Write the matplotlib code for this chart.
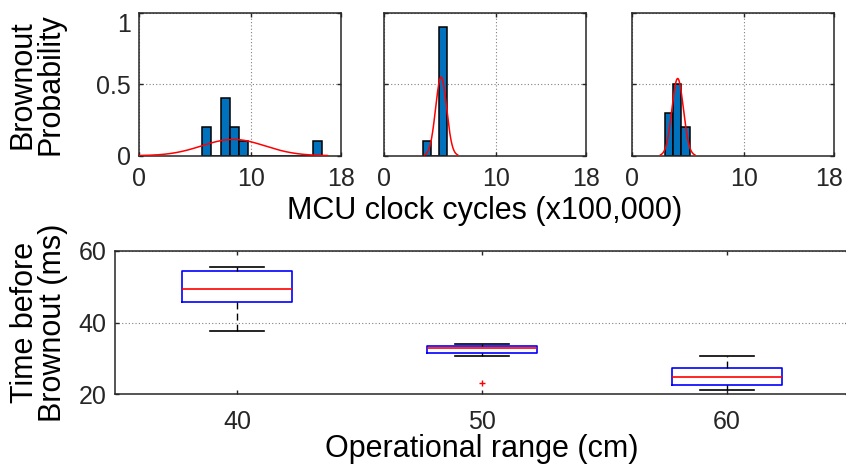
import matplotlib
matplotlib.use('Agg')
import matplotlib.pyplot as plt
import matplotlib.transforms as mtrans
import numpy as np

plt.rcParams['font.family'] = ['Liberation Sans', 'DejaVu Sans']

# top row: brownout probability histograms (MCU clock cycles, x100,000)
hist_start = [5.64, 3.49, 2.97]
hist_width = [0.82, 0.70, 0.72]
hist_prob = [
    [0.2, 0, 0.4, 0.2, 0.1, 0, 0, 0, 0, 0, 0, 0, 0.1],
    [0.1, 0, 0.9],
    [0.3, 0.5, 0.2],
]
# normal fit drawn over each histogram
fit_mu = [8.4, 5.09, 4.07]
fit_sigma = [2.8, 0.49, 0.51]
fit_peak = [0.114, 0.55, 0.54]

# bottom: time before brownout per operational range
range_labels = ['40', '50', '60']
box_lo = [37.6, 30.7, 21.1]
box_q1 = [45.8, 31.5, 22.7]
box_med = [49.4, 32.9, 24.8]
box_q3 = [54.3, 33.5, 27.3]
box_hi = [55.5, 34.1, 30.8]
box_fliers = [[], [23.2], []]

W, H = 846, 466
fig = plt.figure(figsize=(W / 100, H / 100), dpi=100)

axcol = '#262626'
gridkw = dict(color='#808080', linestyle=(0, (1, 2)), linewidth=0.8)


def style(ax, xpad, ypad):
    for s in ax.spines.values():
        s.set_color(axcol)
        s.set_linewidth(1.1)
    ax.tick_params(direction='in', top=True, right=True, length=3,
                   width=1.0, color=axcol, labelcolor=axcol, labelsize=18)
    ax.tick_params(axis='x', pad=xpad)
    ax.tick_params(axis='y', pad=ypad)


lefts = [139, 384, 632]
for i in range(3):
    ax = fig.add_axes([lefts[i] / W, (H - 155.7) / H, 202 / W, 143 / H])
    probs = np.array(hist_prob[i])
    edges = hist_start[i] + hist_width[i] * np.arange(len(probs))
    ax.bar(edges, probs, width=hist_width[i], align='edge',
           color='#0072BD', edgecolor='black', linewidth=1.1, zorder=2)
    xs = np.linspace(fit_mu[i] - 3 * fit_sigma[i], fit_mu[i] + 3 * fit_sigma[i], 200)
    ys = fit_peak[i] * np.exp(-0.5 * ((xs - fit_mu[i]) / fit_sigma[i]) ** 2)
    ax.plot(xs, ys, color='red', linewidth=1.1, zorder=3)
    ax.set_xlim(0, 18)
    ax.set_ylim(0, 1)
    ax.set_xticks([0, 10, 18])
    ax.set_yticks([0, 0.5, 1])
    ax.grid(True, zorder=0, **gridkw)
    ax.set_axisbelow(True)
    style(ax, 8, 6)
    if i == 0:
        ax.set_yticklabels(['0', '0.5', '1'])
        ax.get_yticklabels()[-1].set_verticalalignment('top')
        ax.set_ylabel('Brownout\nProbability', fontsize=22, color='black',
                      linespacing=0.9, labelpad=22)
    else:
        ax.set_yticklabels([])
    if i == 1:
        ax.set_xlabel('MCU clock cycles (x100,000)', fontsize=22,
                      color='black', labelpad=4)
    if i == 2:
        # keep the last "18" inside the figure
        lab = ax.get_xticklabels()[-1]
        lab.set_transform(lab.get_transform() +
                          mtrans.ScaledTranslation(-5 / 100, 0, fig.dpi_scale_trans))

# bottom boxplot
ax = fig.add_axes([115 / W, (H - 394.3) / H, 734.4 / W, 143.6 / H])
stats = []
for k in range(3):
    stats.append(dict(med=box_med[k], q1=box_q1[k], q3=box_q3[k],
                      whislo=box_lo[k], whishi=box_hi[k],
                      fliers=box_fliers[k], label=range_labels[k]))
ax.bxp(stats, positions=[1, 2, 3], widths=0.45, capwidths=0.22,
       boxprops=dict(color='blue', linewidth=1.2),
       medianprops=dict(color='red', linewidth=1.2),
       whiskerprops=dict(color='black', linewidth=1.0, linestyle=(0, (5, 3))),
       capprops=dict(color='black', linewidth=1.2),
       flierprops=dict(marker='+', markeredgecolor='red', markersize=4,
                       markeredgewidth=1.0, linestyle='none'))
ax.set_xlim(0.5, 3.5)
ax.set_ylim(20, 60)
ax.set_yticks([20, 40, 60])
ax.yaxis.grid(True, **gridkw)
ax.set_axisbelow(True)
style(ax, 11, 6)
ax.set_xlabel('Operational range (cm)', fontsize=22, color='black', labelpad=0)
ax.set_ylabel('Time before\nBrownout (ms)', fontsize=22, color='black',
              linespacing=0.9, labelpad=8)

fig.savefig('out.png', dpi=100)
